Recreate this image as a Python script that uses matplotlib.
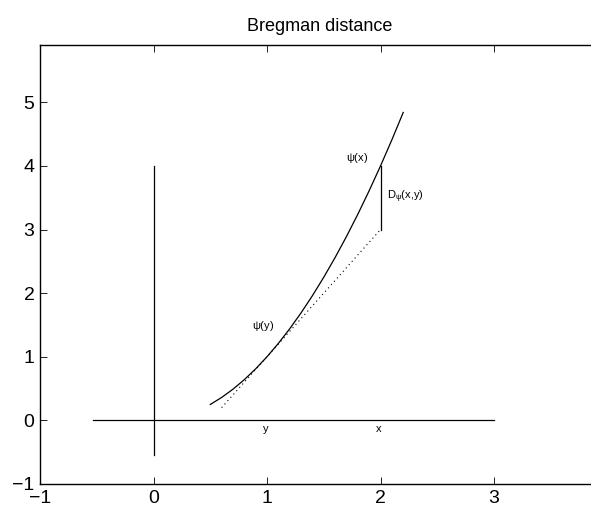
import numpy as np
import matplotlib
matplotlib.use('Agg')
import matplotlib.pyplot as plt

# psi curve
curve_x = [0.5, 0.6, 0.7, 0.8, 0.9, 1.0, 1.1, 1.2, 1.3, 1.4, 1.5, 1.6, 1.7, 1.8, 1.9, 2.0, 2.1, 2.2]
curve_y = [0.25, 0.36, 0.49, 0.64, 0.81, 1.0, 1.21, 1.44, 1.69, 1.96, 2.25, 2.56, 2.89, 3.24, 3.61, 4.0, 4.41, 4.84]

# tangent at y, gap at x, coordinate axes
tangent_x = [0.6, 2.0]
tangent_y = [0.2, 3.0]
gap_x = [2.0, 2.0]
gap_y = [3.0, 4.0]
vaxis_x = [0.0, 0.0]
vaxis_y = [-0.55, 4.0]
haxis_x = [-0.53, 3.0]
haxis_y = [0.0, 0.0]

labels = [(1.70, 4.13, r'$\mathrm{\psi}$(x)'),
          (2.06, 3.52, r'D$_{\mathrm{\psi}}$(x,y)'),
          (0.87, 1.49, r'$\mathrm{\psi}$(y)'),
          (0.96, -0.13, 'y'),
          (1.96, -0.13, 'x')]

plt.rcParams['font.family'] = ['Liberation Sans', 'DejaVu Sans']
plt.rcParams['mathtext.fontset'] = 'custom'
plt.rcParams['mathtext.rm'] = 'Liberation Sans'

fig = plt.figure(figsize=(5.91, 5.09), dpi=100)
# right spine falls just past the figure edge, as in the cropped original
ax = fig.add_axes([40/591, 25/509, 559.6/591, 439/509])

ax.plot(curve_x, curve_y, color='k', lw=0.9)
ax.plot(tangent_x, tangent_y, color='k', lw=0.8, ls=(0, (1, 3)))
ax.plot(gap_x, gap_y, color='k', lw=0.9)
ax.plot(vaxis_x, vaxis_y, color='k', lw=0.9)
ax.plot(haxis_x, haxis_y, color='k', lw=0.9)

for tx, ty, s in labels:
    ax.text(tx, ty, s, ha='left', va='center', fontsize=8)

ax.set_xlim(-1, 3.93)
ax.set_ylim(-1, 5.9)
ax.set_xticks([-1, 0, 1, 2, 3])
ax.set_yticks([-1, 0, 1, 2, 3, 4, 5])
ax.set_xticklabels(['\u22121', '0', '1', '2', '3'])
ax.set_yticklabels(['\u22121', '0', '1', '2', '3', '4', '5'])
ax.tick_params(direction='in', top=True, right=True, labelsize=14, length=5, width=0.6, pad=4)
for sp in ax.spines.values():
    sp.set_linewidth(1.0)
ax.set_title('Bregman distance', fontsize=13, pad=10)

fig.savefig('out.png', dpi=100)
